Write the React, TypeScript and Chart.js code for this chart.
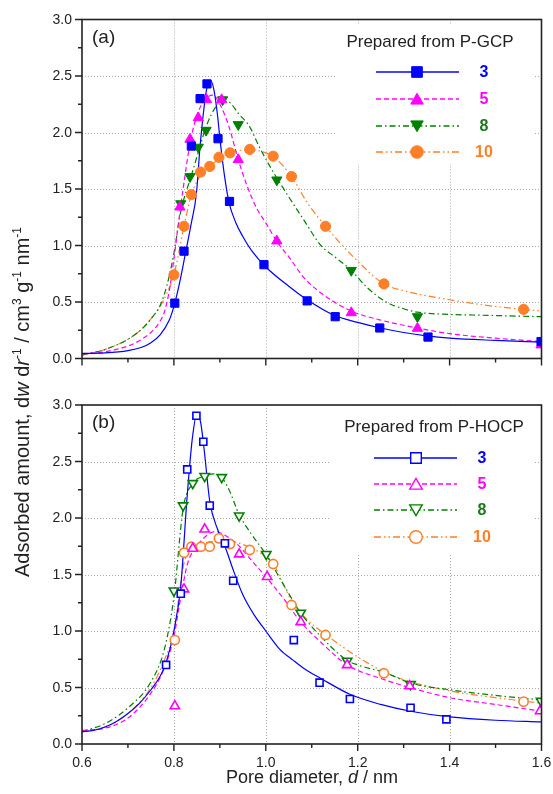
import React, { useEffect, useRef } from 'react';
import { Chart, registerables } from 'chart.js';
Chart.register(...registerables);

const FONT = '"Liberation Sans", Arial, Helvetica, sans-serif';
const INK = '#222222';

// ---- axes ----
const xTickLabels = ['0.6', '0.8', '1.0', '1.2', '1.4', '1.6'];
const xMinorTicks = [0.7, 0.9, 1.1, 1.3, 1.5];
const yTickLabels = ['0.0', '0.5', '1.0', '1.5', '2.0', '2.5', '3.0'];
const yMinorTicks = [0.25, 0.75, 1.25, 1.75, 2.25, 2.75];

// ---- series ----
const seriesNames = ['3', '5', '8', '10'];
const seriesColors = ['#0000ff', '#ff00ff', '#008000', '#ff7f27'];
const numberColors = ['#0000ff', '#ff00ff', '#1a7a1a', '#ff7f27'];
const lineDashes = [[], [5, 3], [6, 3, 1.5, 3], [7, 3, 1.5, 3, 1.5, 3]];
const pointStyles = ['rect', 'triangle', 'triangle', 'circle'];
const pointRotations = [0, 0, 180, 0];

// ---- panel (a): Prepared from P-GCP — measured points ----
const a3X = [0.802, 0.822, 0.838, 0.857, 0.872, 0.896, 0.921, 0.996, 1.09, 1.151, 1.248, 1.353, 1.599];
const a3Y = [0.49, 0.95, 1.88, 2.3, 2.43, 1.945, 1.39, 0.83, 0.51, 0.37, 0.27, 0.19, 0.15];
const a5X = [0.813, 0.835, 0.853, 0.871, 0.904, 0.94, 1.024, 1.186, 1.33, 1.599];
const a5Y = [1.34, 1.94, 2.13, 2.29, 2.29, 1.76, 1.04, 0.405, 0.267, 0.12];
const a8X = [0.815, 0.835, 0.853, 0.87, 0.906, 0.94, 1.024, 1.186, 1.33];
const a8Y = [1.37, 1.61, 1.87, 2.02, 2.29, 2.07, 1.58, 0.78, 0.37];
const a10X = [0.8, 0.822, 0.838, 0.858, 0.878, 0.898, 0.922, 0.965, 1.016, 1.056, 1.13, 1.257, 1.561];
const a10Y = [0.74, 1.17, 1.45, 1.65, 1.7, 1.78, 1.82, 1.85, 1.79, 1.61, 1.17, 0.66, 0.435];

// ---- panel (a): fitted curves ----
const a3CurveX = [0.6, 0.65, 0.7, 0.73, 0.75, 0.77, 0.79, 0.802, 0.815, 0.826, 0.838, 0.849, 0.857, 0.865, 0.872, 0.88, 0.887, 0.895, 0.9, 0.91, 0.92, 0.935, 0.95, 0.97, 1.0, 1.05, 1.09, 1.15, 1.2, 1.25, 1.3, 1.35, 1.4, 1.5, 1.6];
const a3CurveY = [0.045, 0.05, 0.07, 0.1, 0.14, 0.21, 0.34, 0.49, 0.72, 0.95, 1.2, 1.46, 1.88, 2.2, 2.4, 2.46, 2.38, 2.15, 1.95, 1.62, 1.38, 1.2, 1.08, 0.95, 0.81, 0.64, 0.52, 0.38, 0.32, 0.27, 0.23, 0.2, 0.18, 0.16, 0.145];
const a5CurveX = [0.6, 0.65, 0.7, 0.73, 0.75, 0.77, 0.78, 0.79, 0.8, 0.81, 0.82, 0.835, 0.85, 0.87, 0.885, 0.9, 0.92, 0.94, 0.96, 0.98, 1.0, 1.025, 1.05, 1.082, 1.12, 1.186, 1.25, 1.33, 1.4, 1.5, 1.6];
const a5CurveY = [0.04, 0.06, 0.11, 0.17, 0.23, 0.33, 0.42, 0.6, 0.88, 1.2, 1.5, 1.9, 2.15, 2.3, 2.33, 2.25, 2.05, 1.76, 1.52, 1.33, 1.2, 1.03, 0.9, 0.72, 0.58, 0.42, 0.34, 0.27, 0.22, 0.18, 0.15];
const a8CurveX = [0.6, 0.65, 0.7, 0.73, 0.75, 0.77, 0.785, 0.8, 0.815, 0.838, 0.855, 0.87, 0.89, 0.905, 0.92, 0.94, 0.965, 0.985, 1.009, 1.05, 1.082, 1.12, 1.15, 1.186, 1.22, 1.262, 1.3, 1.33, 1.4, 1.45, 1.6];
const a8CurveY = [0.03, 0.08, 0.17, 0.26, 0.35, 0.47, 0.65, 0.93, 1.3, 1.62, 1.85, 2.05, 2.22, 2.28, 2.27, 2.17, 2.05, 1.88, 1.7, 1.43, 1.23, 1.0, 0.9, 0.78, 0.63, 0.5, 0.44, 0.41, 0.39, 0.385, 0.37];
const a10CurveX = [0.6, 0.65, 0.7, 0.73, 0.75, 0.77, 0.785, 0.8, 0.822, 0.838, 0.858, 0.878, 0.9, 0.925, 0.965, 1.0, 1.016, 1.056, 1.09, 1.13, 1.193, 1.257, 1.3, 1.4, 1.5, 1.561, 1.6];
const a10CurveY = [0.03, 0.08, 0.17, 0.26, 0.35, 0.46, 0.58, 0.74, 1.17, 1.45, 1.62, 1.7, 1.77, 1.82, 1.85, 1.82, 1.79, 1.61, 1.38, 1.17, 0.89, 0.66, 0.6, 0.52, 0.46, 0.435, 0.42];

// ---- panel (b): Prepared from P-HOCP — measured points ----
const b3X = [0.783, 0.815, 0.829, 0.849, 0.864, 0.878, 0.911, 0.929, 1.061, 1.117, 1.183, 1.315, 1.393];
const b3Y = [0.7, 1.33, 2.43, 2.905, 2.675, 2.11, 1.776, 1.445, 0.92, 0.543, 0.398, 0.321, 0.218];
const b5X = [0.802, 0.822, 0.841, 0.867, 0.942, 1.003, 1.076, 1.177, 1.313, 1.597];
const b5Y = [0.336, 1.37, 1.73, 1.9, 1.68, 1.48, 1.08, 0.7, 0.513, 0.292];
const b8X = [0.8, 0.82, 0.841, 0.867, 0.904, 0.942, 1.001, 1.076, 1.177, 1.315, 1.599];
const b8Y = [1.357, 2.11, 2.307, 2.37, 2.36, 2.02, 1.68, 1.16, 0.735, 0.528, 0.38];
const b10X = [0.802, 0.822, 0.838, 0.859, 0.878, 0.898, 0.922, 0.965, 1.016, 1.056, 1.13, 1.257, 1.561];
const b10Y = [0.92, 1.693, 1.746, 1.746, 1.746, 1.82, 1.77, 1.717, 1.593, 1.23, 0.965, 0.626, 0.375];

// ---- panel (b): fitted curves ----
const b3CurveX = [0.6, 0.625, 0.65, 0.675, 0.7, 0.725, 0.75, 0.77, 0.783, 0.8, 0.815, 0.829, 0.84, 0.85, 0.858, 0.866, 0.878, 0.895, 0.911, 0.93, 0.95, 0.975, 1.0, 1.03, 1.06, 1.088, 1.12, 1.183, 1.25, 1.315, 1.4, 1.5, 1.6];
const b3CurveY = [0.11, 0.12, 0.15, 0.2, 0.27, 0.36, 0.48, 0.6, 0.72, 1.0, 1.4, 2.2, 2.7, 2.92, 2.85, 2.6, 2.15, 1.9, 1.75, 1.53, 1.32, 1.14, 1.0, 0.84, 0.74, 0.655, 0.58, 0.44, 0.35, 0.29, 0.24, 0.21, 0.195];
const b5CurveX = [0.6, 0.65, 0.7, 0.75, 0.78, 0.8, 0.815, 0.83, 0.85, 0.87, 0.89, 0.91, 0.94, 0.97, 1.0, 1.04, 1.076, 1.12, 1.177, 1.25, 1.313, 1.4, 1.5, 1.6];
const b5CurveY = [0.12, 0.14, 0.23, 0.45, 0.68, 0.95, 1.3, 1.6, 1.75, 1.84, 1.88, 1.85, 1.76, 1.62, 1.48, 1.28, 1.08, 0.9, 0.7, 0.58, 0.5, 0.41, 0.35, 0.29];
const b8CurveX = [0.6, 0.65, 0.7, 0.75, 0.78, 0.8, 0.82, 0.84, 0.867, 0.885, 0.904, 0.92, 0.942, 0.97, 1.0, 1.04, 1.076, 1.12, 1.177, 1.2, 1.26, 1.315, 1.4, 1.5, 1.6];
const b8CurveY = [0.11, 0.18, 0.32, 0.55, 0.85, 1.3, 2.08, 2.3, 2.37, 2.39, 2.36, 2.25, 2.03, 1.85, 1.68, 1.4, 1.16, 0.95, 0.74, 0.7, 0.63, 0.54, 0.48, 0.43, 0.39];
const b10CurveX = [0.6, 0.65, 0.7, 0.75, 0.78, 0.8, 0.822, 0.838, 0.86, 0.88, 0.9, 0.93, 0.965, 1.0, 1.016, 1.035, 1.056, 1.09, 1.13, 1.2, 1.257, 1.3, 1.4, 1.5, 1.561, 1.6];
const b10CurveY = [0.11, 0.15, 0.27, 0.5, 0.75, 1.0, 1.6, 1.72, 1.77, 1.79, 1.8, 1.79, 1.74, 1.66, 1.6, 1.44, 1.27, 1.1, 0.97, 0.77, 0.64, 0.57, 0.47, 0.41, 0.38, 0.36];

const yTitleSegs = [
  { t: 'Adsorbed amount, d' }, { t: 'w', it: true }, { t: ' d' }, { t: 'r', it: true }, { t: '-1', sup: true },
  { t: ' / cm' }, { t: '3', sup: true }, { t: ' g' }, { t: '-1', sup: true }, { t: ' nm' }, { t: '-1', sup: true },
];
const xTitleSegs = [{ t: 'Pore diameter, ' }, { t: 'd', it: true }, { t: ' / nm' }];

type Seg = { t: string; it?: boolean; sup?: boolean };

function drawRich(ctx: CanvasRenderingContext2D, segs: Seg[], cx: number, cy: number, size: number) {
  const fontFor = (s: Seg) => `${s.it ? 'italic ' : ''}${s.sup ? Math.round(size * 0.62) : size}px ${FONT}`;
  let total = 0;
  const widths = segs.map((s) => {
    ctx.font = fontFor(s);
    const w = ctx.measureText(s.t).width;
    total += w;
    return w;
  });
  let x = cx - total / 2;
  const base = cy + size * 0.35;
  ctx.textAlign = 'left';
  ctx.textBaseline = 'alphabetic';
  segs.forEach((s, i) => {
    ctx.font = fontFor(s);
    ctx.fillText(s.t, x, s.sup ? base - size * 0.42 : base);
    x += widths[i];
  });
}

function drawMarker(ctx: CanvasRenderingContext2D, style: string, rot: number, x: number, y: number, r: number) {
  ctx.beginPath();
  if (style === 'rect') {
    const s = r * Math.SQRT1_2;
    ctx.rect(x - s, y - s, 2 * s, 2 * s);
  } else if (style === 'triangle') {
    let a = (rot * Math.PI) / 180;
    ctx.moveTo(x + Math.sin(a) * r, y - Math.cos(a) * r);
    a += (2 * Math.PI) / 3;
    ctx.lineTo(x + Math.sin(a) * r, y - Math.cos(a) * r);
    a += (2 * Math.PI) / 3;
    ctx.lineTo(x + Math.sin(a) * r, y - Math.cos(a) * r);
    ctx.closePath();
  } else {
    ctx.arc(x, y, r, 0, Math.PI * 2);
  }
  ctx.fill();
  ctx.stroke();
}

type PanelDef = {
  id: string;
  letter: string;
  padTop: number;
  padBottom: number;
  title: string;
  box: [number, number, number, number];
  titleY: number;
  titleX: number;
  rowsY: number[];
  lineX: [number, number];
  markerX: number;
  numX: number;
  filled: boolean;
  bottomAxis: boolean;
  pointsX: number[][];
  pointsY: number[][];
  curvesX: number[][];
  curvesY: number[][];
};

const panels: PanelDef[] = [
  {
    id: 'a', letter: '(a)', padTop: 19.5, padBottom: 794 - 358.5, title: 'Prepared from P-GCP',
    box: [336, 24, 535, 164], titleX: 430, titleY: 42, rowsY: [72, 99, 126, 152], lineX: [376, 459], markerX: 417, numX: 484,
    filled: true, bottomAxis: false,
    pointsX: [a3X, a5X, a8X, a10X], pointsY: [a3Y, a5Y, a8Y, a10Y],
    curvesX: [a3CurveX, a5CurveX, a8CurveX, a10CurveX], curvesY: [a3CurveY, a5CurveY, a8CurveY, a10CurveY],
  },
  {
    id: 'b', letter: '(b)', padTop: 405, padBottom: 794 - 744, title: 'Prepared from P-HOCP',
    box: [330, 408, 535, 553], titleX: 434, titleY: 427, rowsY: [458, 484, 510, 537], lineX: [374, 457], markerX: 416, numX: 482,
    filled: false, bottomAxis: true,
    pointsX: [b3X, b5X, b8X, b10X], pointsY: [b3Y, b5Y, b8Y, b10Y],
    curvesX: [b3CurveX, b5CurveX, b8CurveX, b10CurveX], curvesY: [b3CurveY, b5CurveY, b8CurveY, b10CurveY],
  },
];

function makeConfig(p: PanelDef): any {
  const pointRadii = p.filled ? [5.8, 5.9, 5.9, 5.1] : [5, 5.4, 5.4, 4.6];
  const datasets: any[] = [];
  for (let i = 0; i < 4; i++) {
    datasets.push({
      label: seriesNames[i] + ' points',
      data: p.pointsX[i].map((x, k) => ({ x, y: p.pointsY[i][k] })),
      showLine: false,
      pointStyle: pointStyles[i],
      pointRotation: pointRotations[i],
      pointRadius: pointRadii[i],
      pointBorderWidth: p.filled ? 1 : 1.6,
      pointBackgroundColor: p.filled ? seriesColors[i] : '#ffffff',
      pointBorderColor: seriesColors[i],
      borderColor: seriesColors[i],
      backgroundColor: p.filled ? seriesColors[i] : '#ffffff',
      order: 0,
    });
  }
  for (let i = 0; i < 4; i++) {
    datasets.push({
      label: seriesNames[i] + ' fit',
      data: p.curvesX[i].map((x, k) => ({ x, y: p.curvesY[i][k] })),
      showLine: true,
      pointRadius: 0,
      borderColor: seriesColors[i],
      borderWidth: 1.2,
      borderDash: lineDashes[i],
      cubicInterpolationMode: 'monotone',
      fill: false,
      order: 1,
    });
  }

  const plugin = {
    id: 'panelDecor' + p.id,
    beforeDatasetsDraw(chart: any) {
      const ctx: CanvasRenderingContext2D = chart.ctx;
      const xs = chart.scales.x;
      const ys = chart.scales.y;
      const area = chart.chartArea;
      ctx.save();
      ctx.strokeStyle = '#a8a8a8';
      ctx.lineWidth = 1;
      ctx.setLineDash([1, 2]);
      yTickLabels.slice(1, -1).forEach((lab) => {
        const y = Math.round(ys.getPixelForValue(parseFloat(lab))) + 0.5;
        ctx.beginPath();
        ctx.moveTo(area.left, y);
        ctx.lineTo(area.right, y);
        ctx.stroke();
      });
      xTickLabels.slice(1, -1).forEach((lab) => {
        const x = Math.round(xs.getPixelForValue(parseFloat(lab))) + 0.5;
        ctx.beginPath();
        ctx.moveTo(x, area.top);
        ctx.lineTo(x, area.bottom);
        ctx.stroke();
      });
      ctx.setLineDash([]);
      // legend background
      ctx.fillStyle = '#ffffff';
      ctx.fillRect(p.box[0], p.box[1], p.box[2] - p.box[0], p.box[3] - p.box[1]);
      ctx.restore();
    },
    afterDatasetsDraw(chart: any) {
      const ctx: CanvasRenderingContext2D = chart.ctx;
      const xs = chart.scales.x;
      const ys = chart.scales.y;
      const area = chart.chartArea;
      ctx.save();
      // legend
      ctx.fillStyle = INK;
      ctx.font = `17px ${FONT}`;
      ctx.textAlign = 'center';
      ctx.textBaseline = 'middle';
      ctx.fillText(p.title, p.titleX, p.titleY);
      const legR = [7.5, 7.2, 7.2, 6.3];
      for (let i = 0; i < 4; i++) {
        const y = p.rowsY[i];
        ctx.strokeStyle = seriesColors[i];
        ctx.lineWidth = 1.5;
        ctx.setLineDash(lineDashes[i]);
        ctx.beginPath();
        ctx.moveTo(p.lineX[0], y);
        ctx.lineTo(p.lineX[1], y);
        ctx.stroke();
        ctx.setLineDash([]);
        ctx.fillStyle = p.filled ? seriesColors[i] : '#ffffff';
        ctx.lineWidth = p.filled ? 1 : 1.4;
        drawMarker(ctx, pointStyles[i], pointRotations[i], p.markerX, y + (i === 1 ? 1.5 : i === 2 ? -1.5 : 0), legR[i]);
        ctx.fillStyle = numberColors[i];
        ctx.font = `bold 16px ${FONT}`;
        ctx.textAlign = 'center';
        ctx.textBaseline = 'middle';
        ctx.fillText(seriesNames[i], p.numX, y + 1);
      }
      // frame
      ctx.strokeStyle = INK;
      ctx.lineWidth = 1.6;
      ctx.strokeRect(area.left, area.top, area.right - area.left, area.bottom - area.top);
      // ticks
      ctx.lineWidth = 1.4;
      ctx.beginPath();
      xTickLabels.forEach((lab) => {
        const x = xs.getPixelForValue(parseFloat(lab));
        ctx.moveTo(x, area.bottom);
        ctx.lineTo(x, area.bottom + 7);
      });
      xMinorTicks.forEach((v) => {
        const x = xs.getPixelForValue(v);
        ctx.moveTo(x, area.bottom);
        ctx.lineTo(x, area.bottom + 4);
      });
      yTickLabels.forEach((lab) => {
        const y = ys.getPixelForValue(parseFloat(lab));
        ctx.moveTo(area.left, y);
        ctx.lineTo(area.left - 7, y);
      });
      yMinorTicks.forEach((v) => {
        const y = ys.getPixelForValue(v);
        ctx.moveTo(area.left, y);
        ctx.lineTo(area.left - 4, y);
      });
      ctx.stroke();
      // tick labels
      ctx.fillStyle = INK;
      ctx.font = `14px ${FONT}`;
      ctx.textAlign = 'right';
      ctx.textBaseline = 'middle';
      yTickLabels.forEach((lab) => {
        ctx.fillText(lab, area.left - 10, ys.getPixelForValue(parseFloat(lab)) + 0.5);
      });
      if (p.bottomAxis) {
        ctx.textAlign = 'center';
        xTickLabels.forEach((lab) => {
          ctx.fillText(lab, xs.getPixelForValue(parseFloat(lab)), area.bottom + 19);
        });
        drawRich(ctx, xTitleSegs, 312, 777, 18);
        ctx.save();
        ctx.translate(22, 402);
        ctx.rotate(-Math.PI / 2);
        drawRich(ctx, yTitleSegs, 0, 0, 20);
        ctx.restore();
      }
      // panel letter
      ctx.font = `19px ${FONT}`;
      ctx.textAlign = 'left';
      ctx.textBaseline = 'middle';
      ctx.fillStyle = INK;
      ctx.fillText(p.letter, area.left + 10, area.top + 18);
      ctx.restore();
    },
  };

  return {
    type: 'scatter',
    data: { datasets },
    options: {
      responsive: false,
      animation: false,
      events: [],
      layout: { padding: { left: 82, right: 11.5, top: p.padTop, bottom: p.padBottom } },
      plugins: { legend: { display: false }, tooltip: { enabled: false } },
      scales: {
        x: { type: 'linear', min: 0.6, max: 1.6, display: false },
        y: { type: 'linear', min: 0, max: 3, display: false },
      },
    },
    plugins: [plugin],
  };
}

export default function App() {
  const topRef = useRef<HTMLCanvasElement>(null);
  const botRef = useRef<HTMLCanvasElement>(null);
  useEffect(() => {
    const c1 = new Chart(topRef.current as HTMLCanvasElement, makeConfig(panels[0]));
    const c2 = new Chart(botRef.current as HTMLCanvasElement, makeConfig(panels[1]));
    return () => {
      c1.destroy();
      c2.destroy();
    };
  }, []);
  return (
    <div style={{ position: 'absolute', left: 0, top: 0, width: 553, height: 794, background: '#ffffff', overflow: 'hidden' }}>
      <canvas ref={topRef} width={553} height={794} style={{ position: 'absolute', left: 0, top: 0, width: 553, height: 794 }} />
      <canvas ref={botRef} width={553} height={794} style={{ position: 'absolute', left: 0, top: 0, width: 553, height: 794 }} />
    </div>
  );
}
